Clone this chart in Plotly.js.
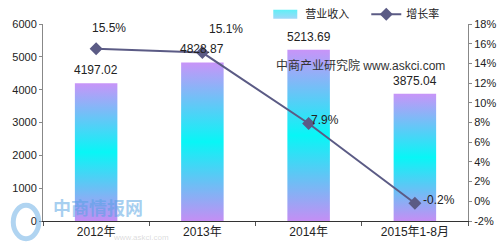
<!DOCTYPE html>
<html><head><meta charset="utf-8">
<script src="https://cdn.plot.ly/plotly-3.0.1.min.js"></script>
<style>html,body{margin:0;padding:0;background:#fff;}#chart{width:500px;height:251px;}</style>
</head><body><div id="chart"></div>
<script>
var categories = ['2012年', '2013年', '2014年', '2015年1-8月'];
var revenue = [4197.02, 4828.87, 5213.69, 3875.04];
var growth = [15.5, 15.1, 7.9, -0.2];
var revenueLabels = ['4197.02', '4828.87', '5213.69', '3875.04'];
var growthLabels = ['15.5%', '15.1%', '7.9%', '-0.2%'];
var leftTicks = [0, 1000, 2000, 3000, 4000, 5000, 6000];
var rightTicks = [-2, 0, 2, 4, 6, 8, 10, 12, 14, 16, 18];
var rightTickLabels = ['-2%', '0%', '2%', '4%', '6%', '8%', '10%', '12%', '14%', '16%', '18%'];

var FONT = '"Liberation Sans", Arial, "Noto Sans CJK SC", sans-serif';

var bars = {
  type: 'bar', name: '营业收入', x: categories, y: revenue,
  width: 0.4, marker: {color: '#7fe9f8', line: {width: 0}},
  hoverinfo: 'skip'
};
var line = {
  type: 'scatter', mode: 'lines+markers', name: '增长率', x: categories, y: growth,
  yaxis: 'y2', line: {color: '#5b5b85', width: 2},
  marker: {symbol: 'diamond', size: 10, color: '#5b5b85'}, hoverinfo: 'skip'
};

var barShift = [[0, 4], [0, 4], [0, 4], [0, 4]];
var lineShift = [[13, 12], [24, 15], [16, -6], [24, -6]];
var annotations = [];
revenue.forEach(function (v, i) {
  annotations.push({x: categories[i], y: v, xref: 'x', yref: 'y', text: revenueLabels[i],
    showarrow: false, yanchor: 'bottom', xshift: barShift[i][0], yshift: barShift[i][1],
    font: {family: FONT, size: 12, color: '#222'}});
});
growth.forEach(function (v, i) {
  annotations.push({x: categories[i], y: v, xref: 'x', yref: 'y2', text: growthLabels[i],
    showarrow: false, yanchor: 'bottom', xanchor: 'center', xshift: lineShift[i][0], yshift: lineShift[i][1],
    font: {family: FONT, size: 12, color: '#222'}});
});
annotations.push({xref: 'paper', yref: 'paper', x: 0.746, y: 0.79, xanchor: 'center', yanchor: 'middle',
  text: '中商产业研究院 www.askci.com',
  showarrow: false, font: {family: FONT, size: 12, color: '#333'}});
annotations.push({xref: 'paper', yref: 'paper', x: 0.13, y: 0.07, xanchor: 'center', yanchor: 'middle',
  text: '<b>中商情报网</b>',
  showarrow: false, font: {family: '"Noto Sans CJK SC", sans-serif', size: 18, color: 'rgba(80,160,225,0.5)'}});
annotations.push({xref: 'paper', yref: 'paper', x: 0.23, y: -0.085, xanchor: 'center', yanchor: 'middle',
  text: 'www.askci.com',
  showarrow: false, font: {family: FONT, size: 8, color: 'rgba(150,150,150,0.35)'}});

var layout = {
  width: 500, height: 251,
  margin: {l: 43, r: 32, t: 24, b: 30, pad: 0, autoexpand: false},
  paper_bgcolor: '#fff', plot_bgcolor: '#fff',
  font: {family: FONT, size: 11, color: '#222'},
  showlegend: true,
  legend: {orientation: 'h', x: 0.523, y: 1.05, xanchor: 'left', yanchor: 'middle', entrywidth: 56,
    font: {family: FONT, size: 11, color: '#222'}, bgcolor: 'rgba(0,0,0,0)', itemwidth: 30, tracegroupgap: 0},
  xaxis: {type: 'category', showgrid: false, showline: true, linecolor: '#333', linewidth: 1,
    ticks: 'outside', tickson: 'boundaries', ticklen: 4, tickcolor: '#555',
    tickfont: {family: FONT, size: 12, color: '#222'}, zeroline: false, fixedrange: true},
  yaxis: {range: [0, 6000], tickvals: leftTicks, showgrid: false, zeroline: false,
    showline: true, linecolor: '#888', linewidth: 1, ticks: 'outside', ticklen: 3, tickcolor: '#888',
    tickfont: {family: FONT, size: 11, color: '#222'}, fixedrange: true},
  yaxis2: {range: [-2, 18], tickvals: rightTicks, ticktext: rightTickLabels, overlaying: 'y', side: 'right',
    showgrid: false, zeroline: false, showline: true, linecolor: '#888', linewidth: 1,
    ticks: 'outside', ticklen: 3, tickcolor: '#888',
    tickfont: {family: FONT, size: 11, color: '#222'}, fixedrange: true},
  shapes: [{type: 'circle', xref: 'paper', yref: 'paper', x0: -0.07, x1: -0.01, y0: -0.09, y1: 0.08,
    line: {color: 'rgba(80,160,225,0.45)', width: 5}}],
  annotations: annotations
};

Plotly.newPlot('chart', [bars, line], layout, {displayModeBar: false, staticPlot: true}).then(function (gd) {
  var svgNS = 'http://www.w3.org/2000/svg';
  var svg = gd.querySelector('svg.main-svg');
  var defs = svg.querySelector('defs') || svg.insertBefore(document.createElementNS(svgNS, 'defs'), svg.firstChild);
  function mkGrad(id, stops) {
    var g = document.createElementNS(svgNS, 'linearGradient');
    g.setAttribute('id', id); g.setAttribute('x1', '0'); g.setAttribute('y1', '0');
    g.setAttribute('x2', '0'); g.setAttribute('y2', '1');
    stops.forEach(function (s) {
      var st = document.createElementNS(svgNS, 'stop');
      st.setAttribute('offset', s[0]); st.setAttribute('stop-color', s[1]);
      g.appendChild(st);
    });
    defs.appendChild(g);
  }
  mkGrad('barGrad', [['0', '#c894f8'], ['0.5', '#08f6f6'], ['1', '#c48ef4']]);
  mkGrad('legGrad', [['0', '#5ef0f6'], ['1', '#a0d8f8']]);
  gd.querySelectorAll('.barlayer .point path').forEach(function (p) { p.style.fill = 'url(#barGrad)'; });
  var items = gd.querySelectorAll('.legend .traces');
  if (items.length) {
    items[0].querySelectorAll('.legendpoints path').forEach(function (p) {
      p.setAttribute('d', 'M12,4.5H-12V-4.5H12Z');
      p.style.fill = 'url(#legGrad)';
    });
  }
});
</script></body></html>
